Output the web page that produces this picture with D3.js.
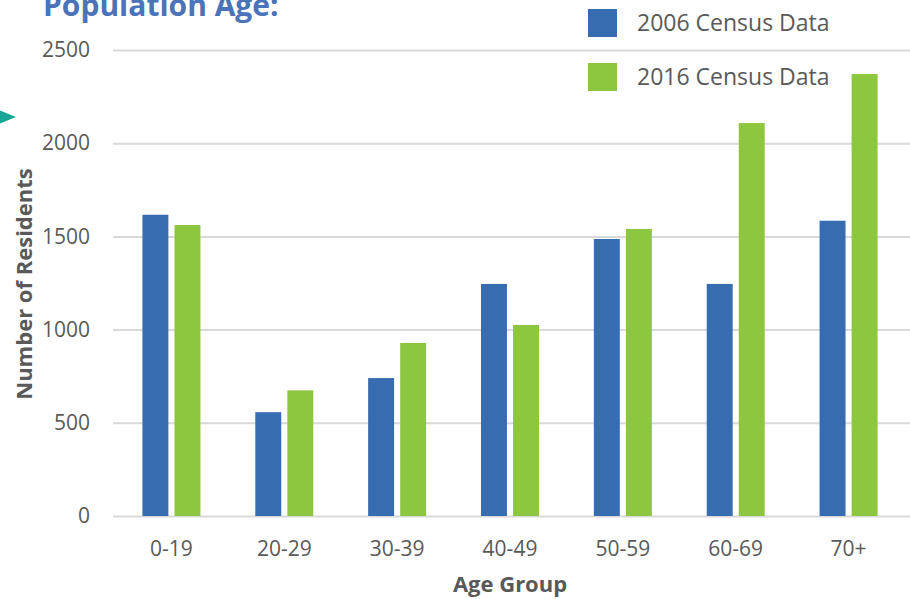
<!DOCTYPE html>
<html>
<head>
<meta charset="utf-8">
<script src="https://cdn.jsdelivr.net/npm/d3@7"></script>
<style>
  body { margin: 0; background: #fff; }
  svg { display: block; font-family: "Open Sans", sans-serif; }
  .tick text { fill: #595959; font-size: 21px; font-family: "Open Sans", sans-serif; }
</style>
</head>
<body>
<svg id="chart" width="910" height="599"></svg>
<script>
const ageGroups = ["0-19", "20-29", "30-39", "40-49", "50-59", "60-69", "70+"]
const seriesNames = ["2006 Census Data", "2016 Census Data"]
const census2006 = [1616, 557, 740, 1245, 1486, 1245, 1584]
const census2016 = [1561, 674, 928, 1025, 1540, 2108, 2371]
const yTicks = [0, 500, 1000, 1500, 2000, 2500]
const colors = ['#386cb0', '#8dc63f']

const data = ageGroups.map((g, i) => ({ group: g, values: [census2006[i], census2016[i]] }))

const svg = d3.select("#chart")
const plotLeft = 113, plotRight = 910
const y = d3.scaleLinear().domain([0, 2500]).range([516, 50])
const x0 = d3.scaleBand()
    .domain(ageGroups)
    .range([115, 905])
    .paddingInner(0.486)
    .paddingOuter(0.243)
const x1 = d3.scaleBand()
    .domain([0, 1])
    .range([0, x0.bandwidth()])
    .paddingInner(0.19)

// title and decoration (title is cropped at the top, as in the source image)
svg.append("path")
    .attr("d", "M-6,108 L16,117 L-6,126 Z")
    .attr("fill", "#16a596")
svg.append("text")
    .attr("x", 43)
    .attr("y", 16)
    .attr("fill", "#4a73b9")
    .attr("font-weight", "bold")
    .attr("font-size", 30)
    .text("Population Age:")

// gridlines + y labels
const yAxis = d3.axisLeft(y)
    .tickValues(yTicks)
    .tickFormat(d3.format("d"))
    .tickSize(-(plotRight - plotLeft))
    .tickPadding(23)
svg.append("g")
    .attr("class", "y axis")
    .attr("transform", `translate(${plotLeft},0)`)
    .call(yAxis)
    .call(g => g.select(".domain").remove())
    .call(g => g.selectAll(".tick line").attr("stroke", "#d9d9d9").attr("stroke-width", 2))

// bars
const groups = svg.append("g")
    .selectAll("g")
    .data(data)
    .join("g")
    .attr("transform", d => `translate(${x0(d.group)},0)`)
groups.selectAll("rect")
    .data(d => d.values.map((v, k) => ({ k, v })))
    .join("rect")
    .attr("x", d => x1(d.k))
    .attr("width", x1.bandwidth())
    .attr("y", d => y(d.v))
    .attr("height", d => y(0) - y(d.v))
    .attr("fill", d => colors[d.k])

// x axis labels
const xAxis = d3.axisBottom(x0).tickSize(0).tickPadding(25)
svg.append("g")
    .attr("class", "x axis")
    .attr("transform", `translate(0,${y(0)})`)
    .call(xAxis)
    .call(g => g.select(".domain").remove())

// axis titles
svg.append("text")
    .attr("transform", "translate(32,284) rotate(-90)")
    .attr("text-anchor", "middle")
    .attr("fill", "#595959")
    .attr("font-weight", "bold")
    .attr("font-size", 22)
    .text("Number of Residents")
svg.append("text")
    .attr("x", 510)
    .attr("y", 592)
    .attr("text-anchor", "middle")
    .attr("fill", "#595959")
    .attr("font-weight", "bold")
    .attr("font-size", 22)
    .text("Age Group")

// legend
const legend = svg.append("g")
    .selectAll("g")
    .data(seriesNames)
    .join("g")
    .attr("transform", (d, i) => `translate(588,${9 + i * 54})`)
legend.append("rect")
    .attr("width", 29)
    .attr("height", 28)
    .attr("fill", (d, i) => colors[i])
legend.append("text")
    .attr("x", 49)
    .attr("y", 14)
    .attr("dy", "0.35em")
    .attr("fill", "#595959")
    .attr("font-size", 23)
    .text(d => d)
</script>
</body>
</html>
